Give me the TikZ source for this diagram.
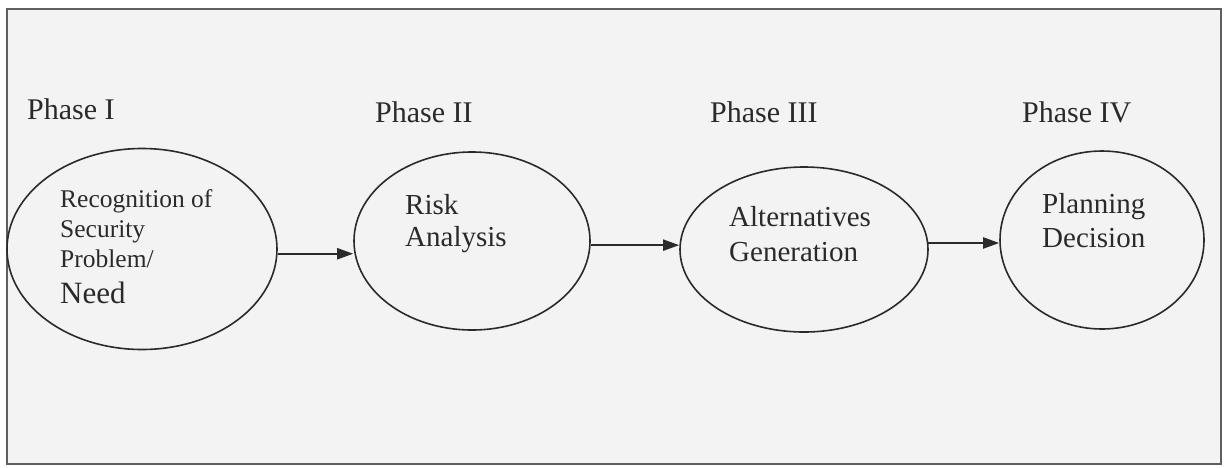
\documentclass[tikz,border=0pt]{standalone}
\usepackage{fontspec}
\setmainfont{Liberation Serif}
\usetikzlibrary{arrows.meta,shapes.geometric}
\definecolor{ink}{HTML}{2A2A2A}
\definecolor{paper}{HTML}{F3F3F3}
\begin{document}
\begin{tikzpicture}[x=1pt,y=-1pt,
  phase/.style={font=\fontsize{30}{30}\selectfont, text=ink, anchor=base west, inner sep=0pt},
  ell/.style={draw=ink, line width=1.6pt, ellipse, inner sep=0pt},
  txt/.style={font=\fontsize{29}{29}\selectfont, text=ink, anchor=base west, inner sep=0pt},
  small/.style={font=\fontsize{25.5}{25.5}\selectfont, text=ink, anchor=base west, inner sep=0pt},
  arr/.style={draw=ink, line width=2pt, -{Triangle[length=16pt,width=11pt]}}]
\useasboundingbox[fill=white] (0,0) rectangle (1225,467);
\draw[draw=ink!75, line width=2pt, fill=paper] (7,9) rectangle (1221,464);
% phase labels
\node[phase] (p1) at (27,119) {Phase I};
\node[phase] (p2) at (375,122) {Phase II};
\node[phase] (p3) at (710,122) {Phase III};
\node[phase] (p4) at (1022,122) {Phase IV};
% ellipses
\node[ell, minimum width=270pt, minimum height=201pt] (e1) at (142,249) {};
\node[ell, minimum width=236pt, minimum height=178pt] (e2) at (472,241) {};
\node[ell, minimum width=248pt, minimum height=165pt] (e3) at (804,249.5) {};
\node[ell, minimum width=204pt, minimum height=178pt] (e4) at (1102,240) {};
% texts
\node[small] (t1a) at (60,207) {Recognition of};
\node[small] (t1b) at (60,237) {Security};
\node[small] (t1c) at (60,267) {Problem/};
\node[font=\fontsize{31}{31}\selectfont, text=ink, anchor=base west, inner sep=0pt] (t1d) at (60,303) {Need};
\node[txt] (t2a) at (405,214) {Risk};
\node[txt] (t2b) at (405,246) {Analysis};
\node[txt] (t3a) at (729,226) {Alternatives};
\node[txt] (t3b) at (729,261) {Generation};
\node[txt] (t4a) at (1042,213) {Planning};
\node[txt] (t4b) at (1042,247) {Decision};
% arrows
\draw[arr] (e1.-2) -- (e1.-2 -| e2.west);
\draw[arr] (e2.-2) -- (e2.-2 -| e3.west);
\draw[arr] (e3.3) -- (e3.3 -| e4.west);
\end{tikzpicture}
\end{document}
